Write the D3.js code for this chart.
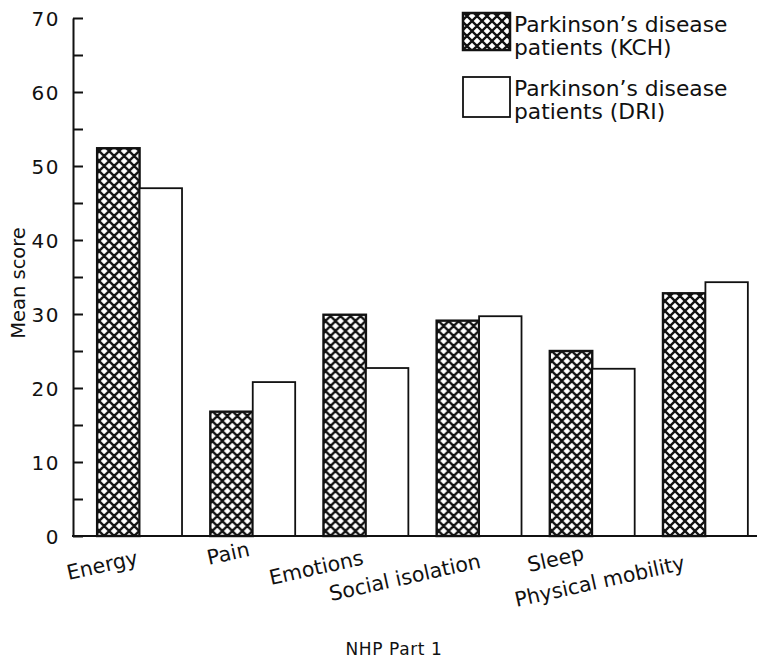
<!DOCTYPE html>
<html>
<head>
<meta charset="utf-8">
<script src="https://cdn.jsdelivr.net/npm/d3@7"></script>
<style>
  html, body { margin: 0; padding: 0; background: #fff; }
  svg { display: block; }
  text { font-family: "DejaVu Sans", sans-serif; fill: #111; }
</style>
</head>
<body>
<div id="chart"></div>
<script>
// NHP Part 1 mean scores for two Parkinson's disease patient groups
const categories = ["Energy", "Pain", "Emotions", "Social isolation", "Sleep", "Physical mobility"];
const seriesKeys = ["KCH", "DRI"];
const kchScores = [52.4, 16.8, 29.9, 29.1, 25.0, 32.8];
const driScores = [47.0, 20.8, 22.7, 29.7, 22.6, 34.3];
const legendLabels = [
  ["Parkinson\u2019s disease", "patients (KCH)"],
  ["Parkinson\u2019s disease", "patients (DRI)"]
];
const yTickValues = [0, 5, 10, 15, 20, 25, 30, 35, 40, 45, 50, 55, 60, 65, 70];
const yLabelValues = [0, 10, 20, 30, 40, 50, 60, 70];
const yTitle = "Mean score";
const xTitle = "NHP Part 1";

const width = 767, height = 664;
const rows = categories.map((c, i) => ({ category: c, KCH: kchScores[i], DRI: driScores[i] }));

const svg = d3.select("#chart").append("svg")
  .attr("width", width).attr("height", height)
  .attr("viewBox", [0, 0, width, height]);
svg.append("rect").attr("width", width).attr("height", height).attr("fill", "#fff");

// cross-hatch fill: black lattice with white openings
const defs = svg.append("defs");
const pat = defs.append("pattern")
  .attr("id", "hatch").attr("patternUnits", "userSpaceOnUse")
  .attr("width", 10).attr("height", 10).attr("x", 2).attr("y", 1);
pat.append("rect").attr("width", 10).attr("height", 10).attr("fill", "#fff");
pat.append("path")
  .attr("d", "M-5,5L5,-5M0,10L10,0M5,15L15,5M-5,5L5,15M0,0L10,10M5,-5L15,5")
  .attr("stroke", "#111").attr("stroke-width", 2.3).attr("fill", "none");

const axisX = 73, axisRight = 757;
const y = d3.scaleLinear().domain([0, 70]).range([536, 18]);
const x = d3.scaleBand().domain(categories).range([83, 762]).paddingInner(0.25).paddingOuter(0.125);
const xs = d3.scaleBand().domain(seriesKeys).range([0, x.bandwidth()]);

const fills = { KCH: "url(#hatch)", DRI: "#fff" };
const strokeW = { KCH: 2.4, DRI: 1.8 };

// bars
const groups = svg.append("g").selectAll("g").data(rows).join("g")
  .attr("transform", d => `translate(${x(d.category)},0)`);
groups.selectAll("rect")
  .data(d => seriesKeys.map(k => ({ key: k, value: d[k] })))
  .join("rect")
  .attr("x", d => xs(d.key))
  .attr("width", xs.bandwidth())
  .attr("y", d => y(d.value))
  .attr("height", d => y(0) - y(d.value))
  .attr("fill", d => fills[d.key])
  .attr("stroke", "#111")
  .attr("stroke-width", d => strokeW[d.key]);

// y axis: inward ticks every 5, labels every 10
const yAxis = d3.axisLeft(y)
  .tickValues(yTickValues)
  .tickSize(-10).tickSizeOuter(0).tickPadding(13)
  .tickFormat(v => yLabelValues.includes(v) ? String(v) : "");
const yg = svg.append("g").attr("transform", `translate(${axisX},0)`).call(yAxis);
yg.selectAll("path, line").attr("stroke", "#111").attr("stroke-width", 2);
yg.selectAll("text").attr("font-size", 20).attr("letter-spacing", 1.5)
  .attr("font-family", "DejaVu Sans, sans-serif").attr("fill", "#111").attr("dy", "0.36em");

// baseline
svg.append("line")
  .attr("x1", axisX - 1).attr("x2", axisRight)
  .attr("y1", y(0)).attr("y2", y(0))
  .attr("stroke", "#111").attr("stroke-width", 2);

// category labels, tilted
const labelShift = [
  [-71, 44], [-44, 29], [-95, 49], [-148, 65], [-63, 36], [-189, 71]
];
svg.append("g").selectAll("text").data(categories).join("text")
  .attr("transform", (d, i) => {
    const cx = x(d) + x.bandwidth() / 2 + labelShift[i][0];
    const cy = y(0) + labelShift[i][1];
    return `translate(${cx},${cy}) rotate(-12.5)`;
  })
  .attr("font-size", 20.6)
  .attr("text-anchor", "start")
  .text(d => d);

// axis titles
svg.append("text")
  .attr("transform", `translate(25,${(y(0) + y(70)) / 2 + 6}) rotate(-90)`)
  .attr("text-anchor", "middle").attr("font-size", 19.5)
  .text(yTitle);
svg.append("text")
  .attr("x", 394).attr("y", 655)
  .attr("text-anchor", "middle").attr("font-size", 17).attr("letter-spacing", 0.6)
  .text(xTitle);

// legend
const legend = svg.append("g");
seriesKeys.forEach((k, i) => {
  const top = 13 + i * 64;
  legend.append("rect")
    .attr("x", 463).attr("y", top).attr("width", 47).attr("height", i === 0 ? 37 : 40)
    .attr("fill", fills[k]).attr("stroke", "#111").attr("stroke-width", i === 0 ? 2.5 : 1.8);
  legendLabels[i].forEach((line, j) => {
    legend.append("text")
      .attr("x", 514).attr("y", top + 19 + j * 23)
      .attr("font-size", 21.8)
      .text(line);
  });
});
</script>
</body>
</html>
